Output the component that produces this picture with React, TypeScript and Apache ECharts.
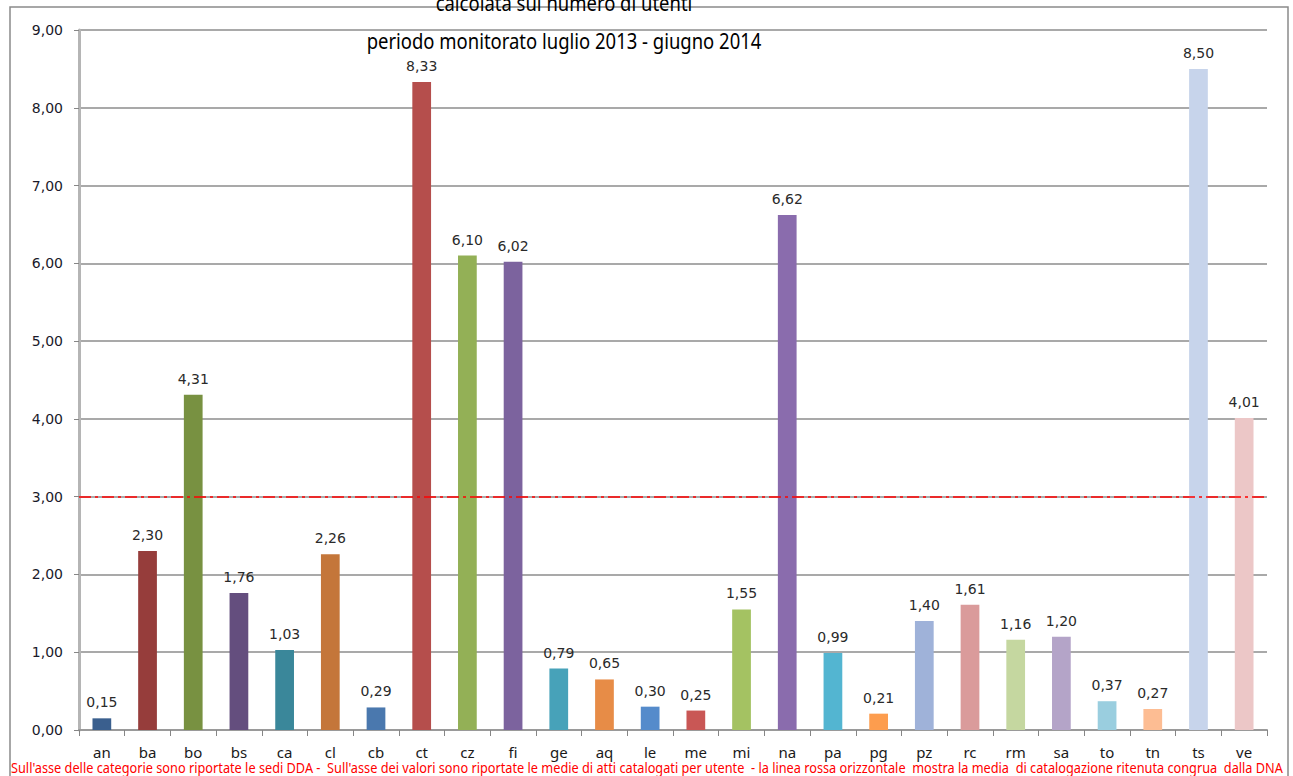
import React, { useEffect, useRef } from "react";
import * as echarts from "echarts";

const categories = ["an","ba","bo","bs","ca","cl","cb","ct","cz","fi","ge","aq","le","me","mi","na","pa","pg","pz","rc","rm","sa","to","tn","ts","ve"];
const values = [0.15,2.30,4.31,1.76,1.03,2.26,0.29,8.33,6.10,6.02,0.79,0.65,0.30,0.25,1.55,6.62,0.99,0.21,1.40,1.61,1.16,1.20,0.37,0.27,8.50,4.01];
const barColors = ["#3A5F8E","#963D3B","#789141","#644E7E","#3A879A","#C4763A","#4A78AE","#B54E4C","#93B056","#7C639E","#47A2B9","#E78C47","#558BCB","#C95755","#A4C262","#8A6CAD","#53B5D1","#FD9D4E","#9FB2D9","#DA9B9B","#C5D7A0","#B4A4C8","#9ACEDF","#FDBD93","#C7D4EB","#ECC7C7"];
const congrua = 3;
const titleLines = ["calcolata sul numero di utenti", "periodo monitorato luglio 2013 - giugno 2014"];
const footnote = "Sull'asse delle categorie sono riportate le sedi DDA -  Sull'asse dei valori sono riportate le medie di atti catalogati per utente  - la linea rossa orizzontale  mostra la media  di catalogazione ritenuta congrua  dalla DNA";

const fmt = (v: number) => v.toFixed(2).replace(".", ",");

export default function App() {
  const ref = useRef<HTMLDivElement>(null);
  useEffect(() => {
    if (!ref.current) return;
    const chart = echarts.init(ref.current, undefined, { renderer: "svg" });
    chart.setOption({
      animation: false,
      backgroundColor: "#ffffff",
      grid: { left: 79, right: 26, top: 30, bottom: 46, containLabel: false },
      xAxis: {
        type: "category",
        data: categories,
        boundaryGap: true,
        axisLine: { lineStyle: { color: "#9A9A9A", width: 2 } },
        axisTick: { show: true, length: 6, lineStyle: { color: "#868686" } },
        axisLabel: { color: "#1a1a1a", fontFamily: "Noto Sans", fontSize: 15, margin: 14 },
      },
      yAxis: {
        type: "value",
        min: 0,
        max: 9,
        interval: 1,
        axisLine: { show: true, lineStyle: { color: "#B5B5B5", width: 3 } },
        axisTick: { show: true, length: 5, lineStyle: { color: "#868686" } },
        axisLabel: { color: "#1a1a2a", fontFamily: "DejaVu Sans", fontSize: 14, margin: 16, formatter: (v: number) => fmt(v) },
        splitLine: { lineStyle: { color: "#8C8C8C", width: 1.5 } },
      },
      series: [
        {
          type: "bar",
          barWidth: "41%",
          data: values.map((v, i) => ({ value: v, itemStyle: { color: barColors[i] } })),
          label: {
            show: true,
            position: "top",
            distance: 9,
            color: "#2a2a2a",
            fontFamily: "DejaVu Sans",
            fontSize: 14,
            formatter: (p: any) => fmt(p.value),
          },
          markLine: {
            silent: true,
            symbol: "none",
            label: { show: false },
            lineStyle: { color: "#FF0000", type: [12, 4, 3, 4], width: 1.5 },
            data: [{ yAxis: congrua }],
          },
        },
      ],
      graphic: [
        { type: "rect", shape: { x: 10, y: 7, width: 1278, height: 800 }, style: { fill: "none", stroke: "#8A8A8A", lineWidth: 1.5 }, silent: true, z: -1 },
        { type: "text", x: 564, y: 2, scaleX: 0.84, style: { text: titleLines[0], x: 0, y: 0, align: "center", verticalAlign: "middle", font: "22px 'Noto Sans'", fill: "#000" }, z: 10 },
        { type: "text", x: 564, y: 40, scaleX: 0.84, style: { text: titleLines[1], x: 0, y: 0, align: "center", verticalAlign: "middle", font: "22px 'Noto Sans'", fill: "#000" }, z: 10 },
        { type: "text", x: 11, y: 768, scaleX: 0.91, style: { text: footnote, x: 0, y: 0, align: "left", verticalAlign: "middle", font: "14px 'Noto Sans'", fill: "#FF0000" }, z: 10 },
      ],
    });
    return () => chart.dispose();
  }, []);
  return <div ref={ref} style={{ position: "fixed", left: 0, top: 0, width: 1293, height: 776 }} />;
}
